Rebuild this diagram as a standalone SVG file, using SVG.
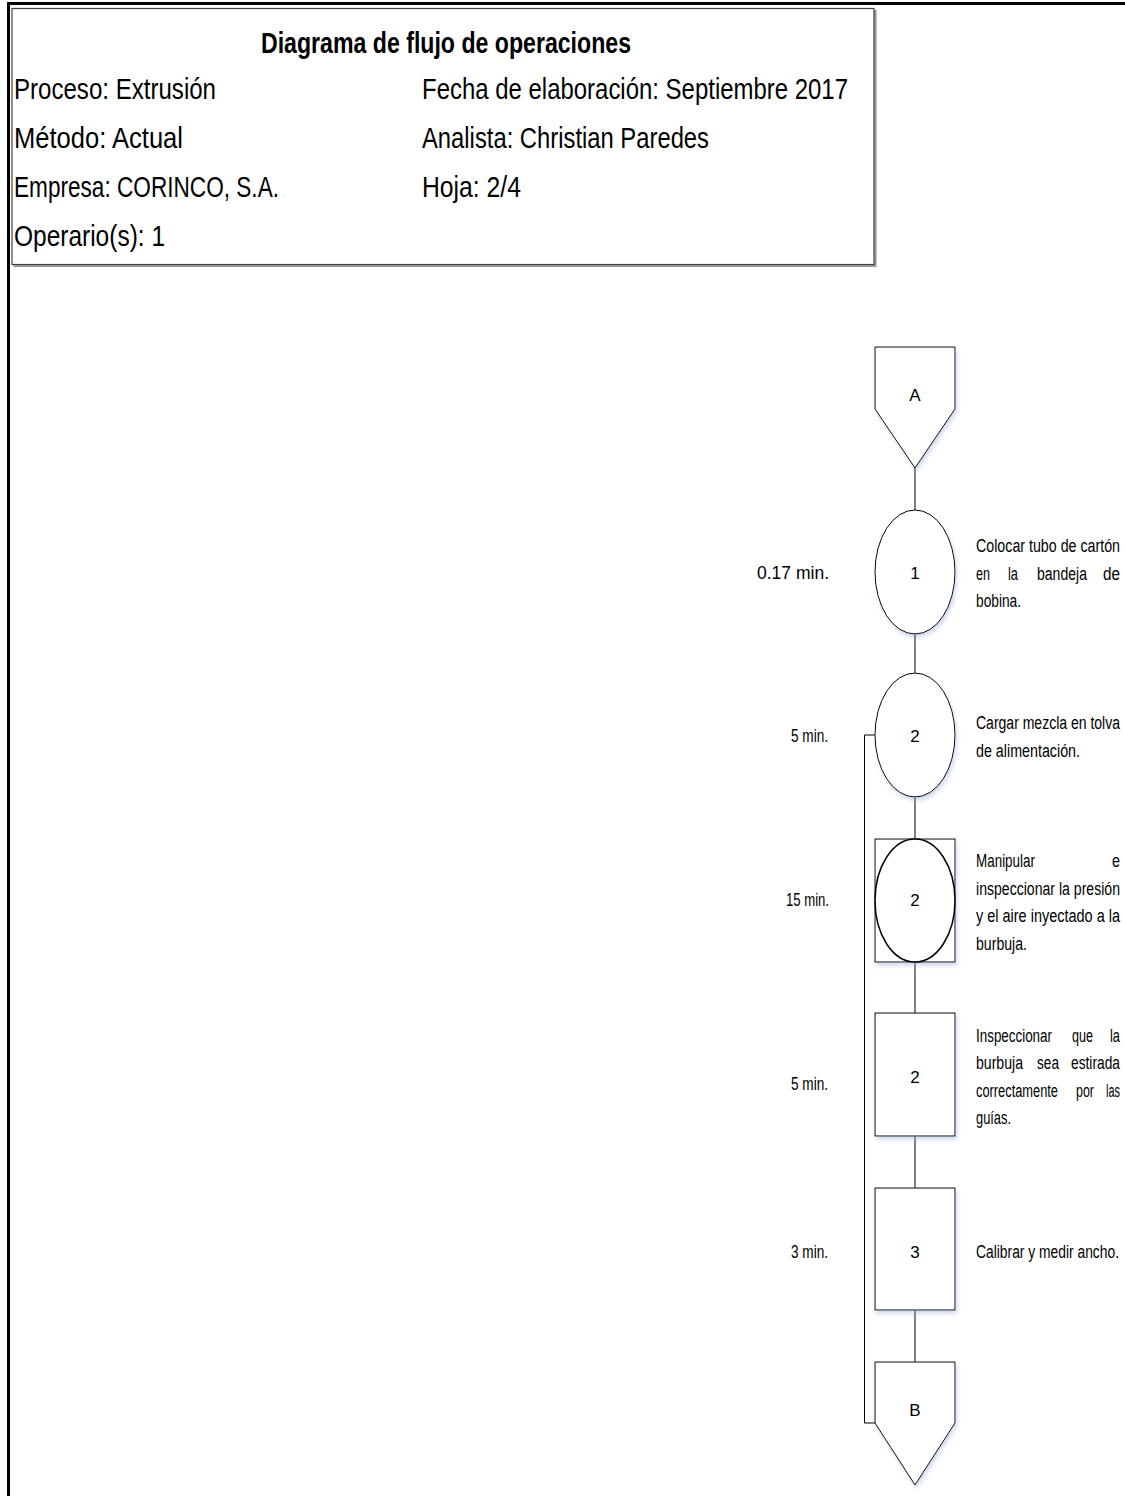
<svg xmlns="http://www.w3.org/2000/svg" width="1125" height="1496" viewBox="0 0 1125 1496">
<defs>
<style>
.hd{font-family:"Liberation Sans",Arial,sans-serif;font-size:30px;fill:#000}
.tt{font-family:"Liberation Sans",Arial,sans-serif;font-size:29px;font-weight:bold;fill:#000}
.t{font-family:"Liberation Sans",Arial,sans-serif;font-size:18px;fill:#000}
.n{font-family:"Liberation Sans",Arial,sans-serif;font-size:17px;fill:#000;text-anchor:middle}
.shape{fill:#fff;stroke:#000;stroke-width:1}
.ln{fill:none;stroke:#000;stroke-width:1}
</style>
<filter id="sh" x="-20%" y="-20%" width="150%" height="150%">
<feDropShadow dx="1.5" dy="3" stdDeviation="2" flood-color="#8eaad4" flood-opacity="0.45"/>
</filter>
<filter id="bs" x="-5%" y="-5%" width="110%" height="110%">
<feDropShadow dx="2" dy="2" stdDeviation="0.6" flood-color="#808080" flood-opacity="0.8"/>
</filter>
</defs>
<rect width="1125" height="1496" fill="#fff"/>
<g id="frame">
<line x1="7" y1="3.5" x2="1125" y2="3.5" stroke="#000" stroke-width="3"/>
<line x1="8.5" y1="2" x2="8.5" y2="1496" stroke="#000" stroke-width="3"/>
</g>
<g id="header">
<rect x="12" y="8.5" width="862" height="256" fill="#fff" stroke="#404040" stroke-width="1.2" filter="url(#bs)"/>
<text class="tt" x="261" y="53" textLength="370" lengthAdjust="spacingAndGlyphs">Diagrama de flujo de operaciones</text>
<text class="hd" x="14" y="99" textLength="202" lengthAdjust="spacingAndGlyphs">Proceso: Extrusión</text>
<text class="hd" x="14" y="148" textLength="169" lengthAdjust="spacingAndGlyphs">Método: Actual</text>
<text class="hd" x="14" y="197" textLength="265" lengthAdjust="spacingAndGlyphs">Empresa: CORINCO, S.A.</text>
<text class="hd" x="14" y="246" textLength="151" lengthAdjust="spacingAndGlyphs">Operario(s): 1</text>
<text class="hd" x="422" y="99" textLength="426" lengthAdjust="spacingAndGlyphs">Fecha de elaboración: Septiembre 2017</text>
<text class="hd" x="422" y="148" textLength="287" lengthAdjust="spacingAndGlyphs">Analista: Christian Paredes</text>
<text class="hd" x="422" y="197" textLength="99" lengthAdjust="spacingAndGlyphs">Hoja: 2/4</text>
</g>
<g id="connectors">
<line class="ln" x1="915" y1="468" x2="915" y2="510"/>
<line class="ln" x1="915" y1="634" x2="915" y2="673"/>
<line class="ln" x1="915" y1="797" x2="915" y2="839"/>
<line class="ln" x1="915" y1="962" x2="915" y2="1013"/>
<line class="ln" x1="915" y1="1136" x2="915" y2="1188"/>
<line class="ln" x1="915" y1="1310" x2="915" y2="1362"/>
<polyline class="ln" points="875,735 864.5,735 864.5,1423 875,1423"/>
</g>
<g id="node-A">
<polygon class="shape" filter="url(#sh)" points="875,347 955,347 955,409 915,468 875,409"/>
<text class="n" x="915" y="401">A</text>
</g>
<g id="node-op1">
<ellipse class="shape" filter="url(#sh)" cx="915" cy="572" rx="40" ry="62"/>
<text class="n" x="915" y="579">1</text>
<text class="t" x="757" y="579" textLength="72" lengthAdjust="spacingAndGlyphs">0.17 min.</text>
<text class="t" x="976" y="552" textLength="144" lengthAdjust="spacingAndGlyphs">Colocar tubo de cartón</text>
<text class="t" x="976" y="580" textLength="14" lengthAdjust="spacingAndGlyphs">en</text>
<text class="t" x="1008" y="580" textLength="10" lengthAdjust="spacingAndGlyphs">la</text>
<text class="t" x="1037" y="580" textLength="50" lengthAdjust="spacingAndGlyphs">bandeja</text>
<text class="t" x="1103" y="580" textLength="17" lengthAdjust="spacingAndGlyphs">de</text>
<text class="t" x="976" y="607" textLength="45" lengthAdjust="spacingAndGlyphs">bobina.</text>
</g>
<g id="node-op2">
<ellipse class="shape" filter="url(#sh)" cx="915" cy="735" rx="40" ry="62"/>
<text class="n" x="915" y="742">2</text>
<text class="t" x="791" y="742" textLength="37" lengthAdjust="spacingAndGlyphs">5 min.</text>
<text class="t" x="976" y="729" textLength="144" lengthAdjust="spacingAndGlyphs">Cargar mezcla en tolva</text>
<text class="t" x="976" y="757" textLength="104" lengthAdjust="spacingAndGlyphs">de alimentación.</text>
</g>
<g id="node-combined2">
<rect class="shape" filter="url(#sh)" x="875" y="839" width="80" height="123"/>
<ellipse fill="#fff" stroke="#000" stroke-width="1.5" cx="915" cy="900.5" rx="40" ry="61.5"/>
<text class="n" x="915" y="906">2</text>
<text class="t" x="786" y="906" textLength="43" lengthAdjust="spacingAndGlyphs">15 min.</text>
<text class="t" x="976" y="867" textLength="59" lengthAdjust="spacingAndGlyphs">Manipular</text>
<text class="t" x="1112" y="867" textLength="8" lengthAdjust="spacingAndGlyphs">e</text>
<text class="t" x="976" y="895" textLength="144" lengthAdjust="spacingAndGlyphs">inspeccionar la presión</text>
<text class="t" x="976" y="922" textLength="144" lengthAdjust="spacingAndGlyphs">y el aire inyectado a la</text>
<text class="t" x="976" y="950" textLength="51" lengthAdjust="spacingAndGlyphs">burbuja.</text>
</g>
<g id="node-insp2">
<rect class="shape" filter="url(#sh)" x="875" y="1013" width="80" height="123"/>
<text class="n" x="915" y="1083">2</text>
<text class="t" x="791" y="1090" textLength="37" lengthAdjust="spacingAndGlyphs">5 min.</text>
<text class="t" x="976" y="1042" textLength="76" lengthAdjust="spacingAndGlyphs">Inspeccionar</text>
<text class="t" x="1072" y="1042" textLength="21" lengthAdjust="spacingAndGlyphs">que</text>
<text class="t" x="1110" y="1042" textLength="10" lengthAdjust="spacingAndGlyphs">la</text>
<text class="t" x="976" y="1069" textLength="47" lengthAdjust="spacingAndGlyphs">burbuja</text>
<text class="t" x="1037" y="1069" textLength="22" lengthAdjust="spacingAndGlyphs">sea</text>
<text class="t" x="1071" y="1069" textLength="49" lengthAdjust="spacingAndGlyphs">estirada</text>
<text class="t" x="976" y="1097" textLength="82" lengthAdjust="spacingAndGlyphs">correctamente</text>
<text class="t" x="1076" y="1097" textLength="18" lengthAdjust="spacingAndGlyphs">por</text>
<text class="t" x="1106" y="1097" textLength="14" lengthAdjust="spacingAndGlyphs">las</text>
<text class="t" x="976" y="1124" textLength="35" lengthAdjust="spacingAndGlyphs">guías.</text>
</g>
<g id="node-insp3">
<rect class="shape" filter="url(#sh)" x="875" y="1188" width="80" height="122"/>
<text class="n" x="915" y="1258">3</text>
<text class="t" x="791" y="1258" textLength="37" lengthAdjust="spacingAndGlyphs">3 min.</text>
<text class="t" x="976" y="1258" textLength="143" lengthAdjust="spacingAndGlyphs">Calibrar y medir ancho.</text>
</g>
<g id="node-B">
<polygon class="shape" filter="url(#sh)" points="875,1362 955,1362 955,1423 915,1485 875,1423"/>
<text class="n" x="915" y="1416">B</text>
</g>
</svg>
